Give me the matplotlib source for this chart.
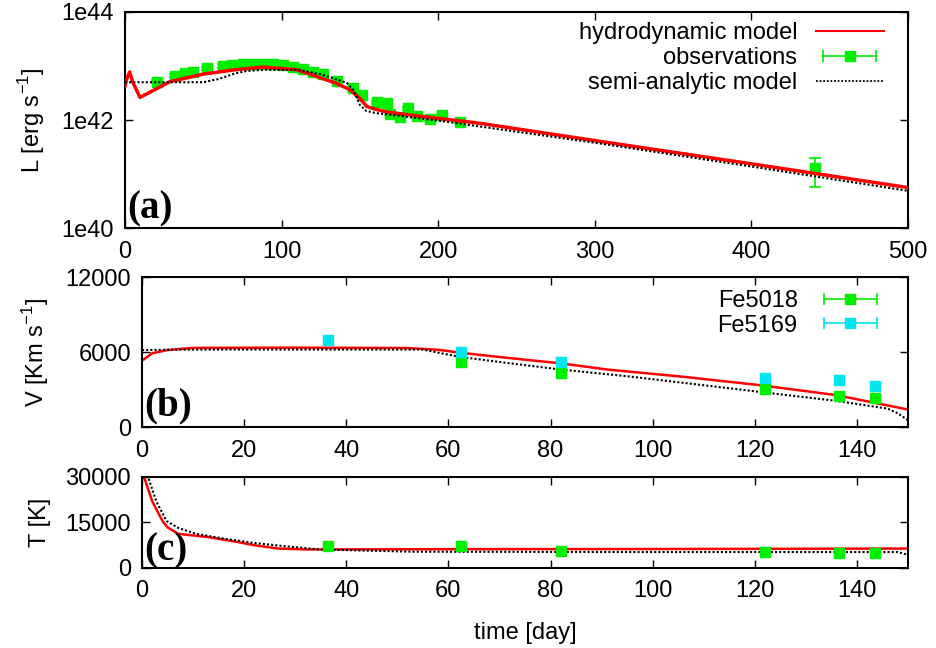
import numpy as np
import matplotlib
matplotlib.use('Agg')
import matplotlib.pyplot as plt
from matplotlib.lines import Line2D
from matplotlib.legend_handler import HandlerLine2D, HandlerTuple

plt.rcParams['font.family'] = ['Liberation Sans', 'DejaVu Sans']
plt.rcParams['font.size'] = 17
plt.rcParams['axes.linewidth'] = 1.5
for ax_ in ('x', 'y'):
    plt.rcParams[ax_ + 'tick.direction'] = 'in'
    plt.rcParams[ax_ + 'tick.major.size'] = 5.5
    plt.rcParams[ax_ + 'tick.major.width'] = 1.0
    plt.rcParams[ax_ + 'tick.minor.size'] = 0
plt.rcParams['xtick.major.pad'] = 9
plt.rcParams['ytick.major.pad'] = 8

RED = '#ff0000'
GREEN = '#00ee00'
CYAN = '#00e5ee'

# ---- (a) luminosity, log10 L [erg/s]
t_hydroL = [0, 1, 3, 5, 9.6, 15, 28.7, 50, 70, 88, 110, 125, 135, 143.7, 150, 154.5,
            160, 167, 180, 226.7, 300, 400, 500]
logL_hydro = [42.62, 42.75, 42.89, 42.70, 42.42, 42.50, 42.71, 42.85, 42.93, 42.98, 42.93,
              42.78, 42.68, 42.56, 42.40, 42.25, 42.20, 42.15, 42.10, 41.94, 41.62, 41.19, 40.75]
t_semiL = [0, 20, 50, 60, 70, 78, 90, 110, 125, 141.6, 146, 150, 154, 160, 200, 300, 400, 500]
logL_semi = [42.70, 42.70, 42.70, 42.76, 42.86, 42.91, 42.93, 42.93, 42.85, 42.69, 42.55,
             42.28, 42.17, 42.13, 41.99, 41.58, 41.14, 40.69]
t_obsL = [20.6, 31.9, 38.3, 43.6, 52.2, 62.8, 68.1, 75.6, 81.9, 88.3, 94.7, 101.1, 107.5,
          113.9, 120.2, 126.6, 135.2, 145.8, 151.1, 160.7, 167.1, 169.2, 175.6, 180.9,
          186.3, 194.8, 202.2, 213.9, 440.6]
logL_obs = [42.71, 42.82, 42.865, 42.88, 42.96, 43.0, 43.02, 43.04, 43.04, 43.04, 43.03,
            43.02, 42.99, 42.95, 42.88, 42.85, 42.72, 42.59, 42.47, 42.33, 42.31, 42.12,
            42.05, 42.22, 42.07, 42.02, 42.09, 41.97, 41.12]
logL_obs_hi = [42.74, 42.85, 42.89, 42.91, 42.99, 43.03, 43.05, 43.07, 43.07, 43.07, 43.06,
               43.05, 43.02, 42.98, 42.91, 42.88, 42.75, 42.62, 42.50, 42.36, 42.34, 42.15,
               42.08, 42.25, 42.10, 42.05, 42.12, 42.00, 41.30]
logL_obs_lo = [42.68, 42.79, 42.84, 42.85, 42.93, 42.97, 42.99, 43.01, 43.01, 43.01, 43.00,
               42.99, 42.96, 42.92, 42.85, 42.82, 42.69, 42.56, 42.44, 42.30, 42.28, 42.09,
               42.02, 42.19, 42.04, 41.99, 42.06, 41.94, 40.76]

# ---- (b) velocity [km/s]
t_hydroV = [0, 2, 5, 10, 30, 52, 58, 62.2, 70, 82.1, 91.1, 106, 121, 136, 150]
V_hydro = [5300, 5900, 6160, 6330, 6350, 6320, 6180, 5950, 5600, 5090, 4600, 4020, 3350, 2550, 1400]
t_semiV = [0, 10, 55, 62, 72, 82, 96, 121, 136, 146, 148, 150]
V_semi = [6160, 6200, 6200, 5625, 5100, 4600, 4020, 2810, 2090, 1470, 1100, 540]
t_fe5018 = [62.5, 82, 122, 136.5, 143.5]
V_fe5018 = [5220, 4340, 3030, 2460, 2360]
t_fe5169 = [36.5, 62.5, 82, 122, 136.5, 143.5]
V_fe5169 = [6960, 6030, 5170, 3960, 3800, 3270]

# ---- (c) temperature [K]
t_hydroT = [0, 0.5, 2, 4, 5, 7.1, 12.9, 18.6, 22, 26.7, 32.4, 60, 100, 150]
T_hydro = [31000, 29500, 22000, 15500, 13400, 11250, 10200, 8600, 7500, 6400, 6100, 6200, 6250, 6400]
t_semiT = [0.8, 2.8, 4.8, 7.1, 10.6, 16.3, 22, 27.8, 34.7, 53, 100, 148, 150]
T_semi = [32000, 22000, 15500, 13200, 11250, 9600, 8250, 7200, 6100, 5360, 5250, 5250, 4300]
t_obsT = [36.5, 62.5, 82, 122, 136.5, 143.5]
T_obs = [7400, 7400, 5700, 5400, 4800, 5000]

fig = plt.figure(figsize=(9.36, 6.48), dpi=100)
axa = fig.add_axes([0.1335, 0.648, 0.8365, 0.3335])
axb = fig.add_axes([0.1517, 0.341, 0.8184, 0.2315])
axc = fig.add_axes([0.1517, 0.1235, 0.8184, 0.1404])

dot = (0, (1, 1))
ms = 7.2

# panel (a)
Lo = 10 ** np.array(logL_obs)
axa.errorbar(t_obsL, Lo, yerr=[Lo - 10 ** np.array(logL_obs_lo), 10 ** np.array(logL_obs_hi) - Lo],
             fmt='s', color=GREEN, ms=ms, lw=1.2, capsize=4, capthick=1.2, zorder=2)
axa.plot(t_hydroL, 10 ** np.array(logL_hydro), '-', color=RED, lw=2.5, zorder=3)
axa.plot(t_semiL, 10 ** np.array(logL_semi), linestyle=dot, color='k', lw=1.5, zorder=4)
axa.set_yscale('log')
axa.set_xlim(0, 500)
axa.set_ylim(1e40, 1e44)
axa.set_yticks([1e40, 1e42, 1e44])
axa.set_yticklabels(['1e40', '1e42', '1e44'])
axa.yaxis.set_minor_locator(matplotlib.ticker.NullLocator())
axa.set_xticks(np.arange(0, 501, 100))
axa.set_ylabel('L [erg s$^{\\mathregular{-1}}$]', labelpad=10)


def err_handles(color):
    caps = Line2D([], [], color=color, lw=1.2, marker='|', ms=9, mew=1.2)
    sq = Line2D([], [], color=color, ls='none', marker='s', ms=ms)
    return (caps, sq), {caps: HandlerLine2D(numpoints=2), sq: HandlerLine2D(numpoints=1)}


h_obs, hm1 = err_handles(GREEN)
h_hyd = Line2D([], [], color=RED, lw=1.5)
h_semi = Line2D([], [], color='k', lw=1.3, linestyle=dot)
hmap = {tuple: HandlerTuple(ndivide=1, pad=0)}
hmap.update(hm1)
axa.legend([h_hyd, h_obs, h_semi], ['hydrodynamic model', 'observations', 'semi-analytic model'],
           loc='upper right', bbox_to_anchor=(0.99, 1.028), frameon=False, markerfirst=False,
           handlelength=2.85, handletextpad=0.8, labelspacing=0.12, borderaxespad=0.3,
           handler_map=hmap, fontsize=17)
axa.text(0.003, 0.005, '(a)', transform=axa.transAxes, family='Liberation Serif',
         fontweight='bold', fontsize=28, ha='left', va='bottom')

# panel (b)
axb.plot(t_hydroV, V_hydro, '-', color=RED, lw=1.8, zorder=2)
axb.plot(t_semiV, V_semi, linestyle=dot, color='k', lw=1.5, zorder=3)
axb.plot(t_fe5018, V_fe5018, 's', color=GREEN, ms=ms, zorder=4)
axb.plot(t_fe5169, V_fe5169, 's', color=CYAN, ms=ms, zorder=4)
axb.set_xlim(0, 150)
axb.set_ylim(0, 12000)
axb.set_yticks([0, 6000, 12000])
axb.set_xticks(np.arange(0, 141, 20))
axb.set_ylabel('V [Km s$^{\\mathregular{-1}}$]', labelpad=10)
h18, hm2 = err_handles(GREEN)
h69, hm3 = err_handles(CYAN)
hmap2 = {tuple: HandlerTuple(ndivide=1, pad=0)}
hmap2.update(hm2)
hmap2.update(hm3)
axb.legend([h18, h69], ['Fe5018', 'Fe5169'], loc='upper right',
           bbox_to_anchor=(0.99, 1.025), frameon=False, markerfirst=False,
           handlelength=2.85, handletextpad=0.8, labelspacing=0.12, borderaxespad=0.3,
           handler_map=hmap2, fontsize=17)
axb.text(0.003, 0.02, '(b)', transform=axb.transAxes, family='Liberation Serif',
         fontweight='bold', fontsize=28, ha='left', va='bottom')

# panel (c)
axc.plot(t_hydroT, T_hydro, '-', color=RED, lw=1.8, zorder=2)
axc.plot(t_semiT, T_semi, linestyle=dot, color='k', lw=1.5, zorder=3)
axc.plot(t_obsT, T_obs, 's', color=GREEN, ms=ms, zorder=4)
axc.set_xlim(0, 150)
axc.set_ylim(0, 30000)
axc.set_yticks([0, 15000, 30000])
axc.set_xticks(np.arange(0, 141, 20))
axc.set_ylabel('T [K]', labelpad=10)
axc.set_xlabel('time [day]', labelpad=14)
axc.text(0.003, -0.02, '(c)', transform=axc.transAxes, family='Liberation Serif',
         fontweight='bold', fontsize=28, ha='left', va='bottom')

for ax in (axa, axb, axc):
    ax.tick_params(top=True, right=True, labelsize=17)

fig.align_ylabels([axa, axb, axc])
fig.savefig('out.png', dpi=100)
